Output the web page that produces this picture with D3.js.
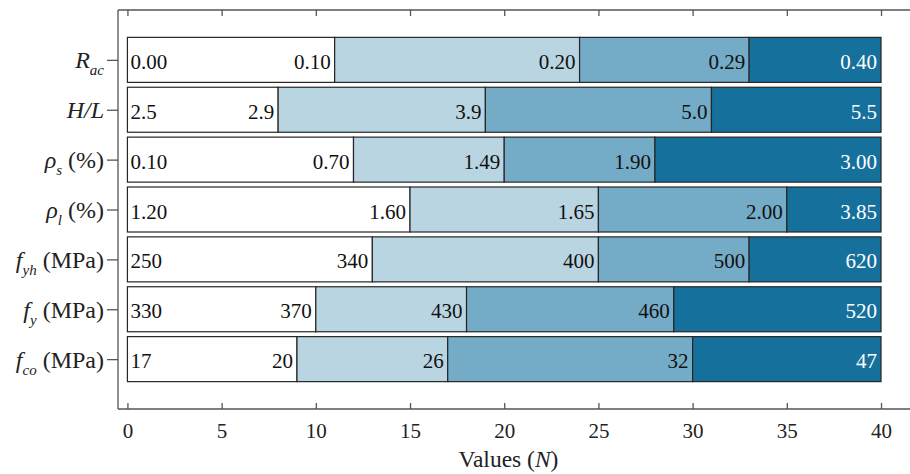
<!DOCTYPE html>
<html>
<head>
<meta charset="utf-8">
<script src="https://cdn.jsdelivr.net/npm/d3@7"></script>
<style>
  body { margin: 0; background: #fff; }
  svg { font-family: "Liberation Serif", "Times New Roman", serif; }
</style>
</head>
<body>
<svg id="chart" width="910" height="474"></svg>
<script>
// categories, top to bottom
const categories = ["Rac", "HL", "rhos", "rhol", "fyh", "fy", "fco"];

// label pieces for the y axis: [text, italic, subscript]
const categoryLabels = [
  [["R", 1, 0], ["ac", 1, 1]],
  [["H/L", 1, 0]],
  [["ρ", 1, 0], ["s", 1, 1], [" (%)", 0, 0]],
  [["ρ", 1, 0], ["l", 1, 1], [" (%)", 0, 0]],
  [["f", 1, 0], ["yh", 1, 1], [" (MPa)", 0, 0]],
  [["f", 1, 0], ["y", 1, 1], [" (MPa)", 0, 0]],
  [["f", 1, 0], ["co", 1, 1], [" (MPa)", 0, 0]]
];

// widths of the four segments of each bar (in N)
const segments = [
  [11, 13, 9, 7],
  [8, 11, 12, 9],
  [12, 8, 8, 12],
  [15, 10, 10, 5],
  [13, 12, 8, 7],
  [10, 8, 11, 11],
  [9, 8, 13, 10]
];

// start value + value at each segment end
const valueLabels = [
  ["0.00", "0.10", "0.20", "0.29", "0.40"],
  ["2.5", "2.9", "3.9", "5.0", "5.5"],
  ["0.10", "0.70", "1.49", "1.90", "3.00"],
  ["1.20", "1.60", "1.65", "2.00", "3.85"],
  ["250", "340", "400", "500", "620"],
  ["330", "370", "430", "460", "520"],
  ["17", "20", "26", "32", "47"]
];

const xTicks = [0, 5, 10, 15, 20, 25, 30, 35, 40];
const colors = ["#ffffff", "#b9d5e1", "#74abc7", "#16709c"];

const svg = d3.select("#chart");
const mLeft = 118, mTop = 10, mBottom = 409;

const x = d3.scaleLinear().domain([-0.5, 42]).range([mLeft, mLeft + 42.5 * 18.84]);
const y = d3.scaleLinear().domain([0, categories.length + 1]).range([mTop, mBottom]);
const barH = 45;

const keys = [0, 1, 2, 3];
const table = segments.map((s, i) => ({cat: categories[i], 0: s[0], 1: s[1], 2: s[2], 3: s[3]}));
const stacked = d3.stack().keys(keys)(table);

// bars
const layer = svg.append("g")
  .selectAll("g")
  .data(stacked)
  .join("g")
  .attr("fill", d => colors[d.key]);

layer.selectAll("rect")
  .data(d => d)
  .join("rect")
  .attr("x", d => x(d[0]))
  .attr("y", (d, i) => y(i + 1) - barH / 2)
  .attr("width", d => x(d[1]) - x(d[0]))
  .attr("height", barH)
  .attr("stroke", "#262626")
  .attr("stroke-width", 1.2);

// value labels
const lab = svg.append("g").attr("font-size", 21);
categories.forEach((c, i) => {
  const cy = y(i + 1) + 9;
  lab.append("text")
    .attr("x", x(0) + 3)
    .attr("y", cy)
    .attr("fill", "#111")
    .text(valueLabels[i][0]);
  stacked.forEach((s, k) => {
    lab.append("text")
      .attr("x", x(s[i][1]) - 4)
      .attr("y", cy)
      .attr("text-anchor", "end")
      .attr("fill", k === 3 ? "#fff" : "#111")
      .text(valueLabels[i][k + 1]);
  });
});

// axes frame
const axisColor = "#555";
const frame = svg.append("g").attr("stroke", axisColor).attr("stroke-width", 1.3).attr("fill", "none");
frame.append("line").attr("x1", mLeft).attr("x2", x(42)).attr("y1", mTop).attr("y2", mTop);
frame.append("line").attr("x1", mLeft).attr("x2", x(42)).attr("y1", mBottom).attr("y2", mBottom);
frame.append("line").attr("x1", mLeft).attr("x2", mLeft).attr("y1", mTop).attr("y2", mBottom);
frame.append("line").attr("x1", x(42)).attr("x2", x(42)).attr("y1", mTop).attr("y2", mBottom);

// x ticks (inward, top and bottom)
const xAxis = svg.append("g").attr("transform", `translate(0,${mBottom})`)
  .call(d3.axisBottom(x).tickValues(xTicks).tickSize(-6).tickPadding(14).tickFormat(d3.format("d")));
xAxis.select(".domain").remove();
xAxis.attr("font-family", null);
xAxis.selectAll("line").attr("stroke", axisColor).attr("stroke-width", 1.3);
xAxis.selectAll("text").attr("font-size", 21).attr("fill", "#222");

const xTop = svg.append("g").attr("transform", `translate(0,${mTop})`)
  .call(d3.axisTop(x).tickValues(xTicks).tickSize(-6).tickFormat(""));
xTop.select(".domain").remove();
xTop.selectAll("line").attr("stroke", axisColor).attr("stroke-width", 1.3);

// y ticks (outward)
const yAxis = svg.append("g").attr("transform", `translate(${mLeft},0)`)
  .call(d3.axisLeft(y).tickValues(d3.range(1, categories.length + 1)).tickSize(11).tickFormat(""));
yAxis.select(".domain").remove();
yAxis.selectAll("line").attr("stroke", axisColor).attr("stroke-width", 1.3);

// y labels
categoryLabels.forEach((parts, i) => {
  const t = svg.append("text")
    .attr("x", mLeft - 14)
    .attr("y", y(i + 1) + 8.5)
    .attr("text-anchor", "end")
    .attr("font-size", 24)
    .attr("fill", "#222");
  let shifted = false;
  parts.forEach(([s, it, sub]) => {
    const ts = t.append("tspan").text(s)
      .attr("font-style", it ? "italic" : "normal");
    if (sub) {
      ts.attr("font-size", 15).attr("dy", 7);
      shifted = true;
    } else if (shifted) {
      ts.attr("dy", -7);
      shifted = false;
    }
  });
});

// x axis title
const title = svg.append("text")
  .attr("x", 508.5)
  .attr("y", 467)
  .attr("text-anchor", "middle")
  .attr("font-size", 23.5)
  .attr("fill", "#222");
title.append("tspan").text("Values (");
title.append("tspan").attr("font-style", "italic").text("N");
title.append("tspan").text(")");
</script>
</body>
</html>
